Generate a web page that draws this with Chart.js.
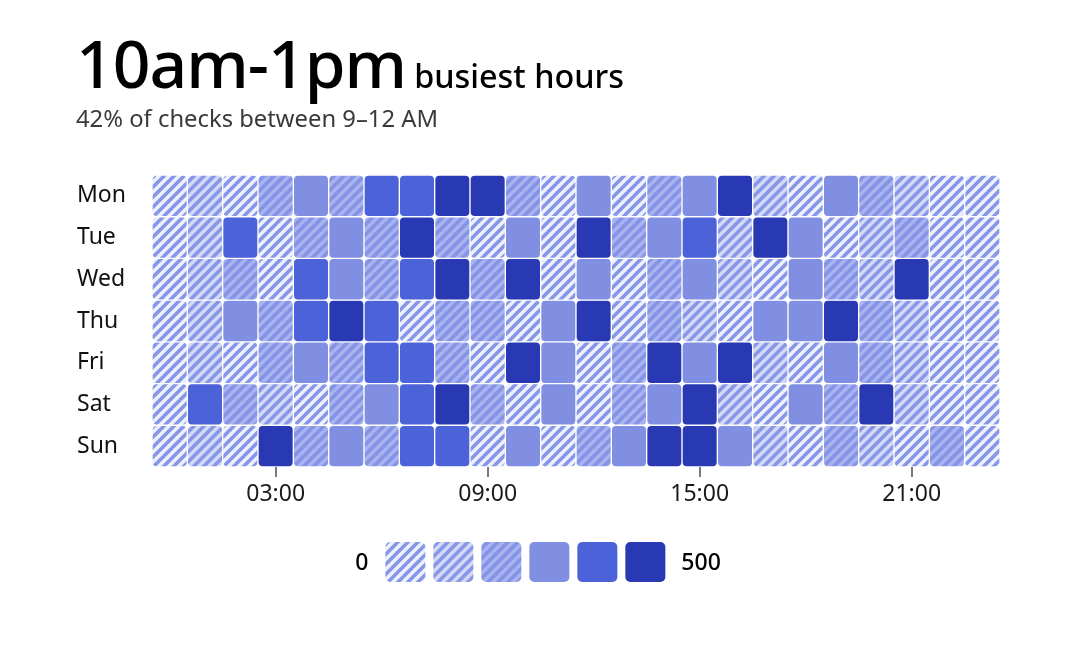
<!DOCTYPE html>
<html>
<head>
<meta charset="utf-8">
<script src="https://cdn.jsdelivr.net/npm/chart.js@4.4.0/dist/chart.umd.min.js"></script>
<style>
    html, body {
        margin: 0;
        padding: 0;
        background: #fff;
        font-family: "Noto Sans", "Open Sans", sans-serif;
    }
    #wrap {
        position: relative;
        width: 1076px;
        height: 646px;
        overflow: hidden;
    }
    #chart {
        position: absolute;
        left: 0;
        top: 0;
    }
    .headline {
        position: absolute;
        left: 76px;
        top: 29px;
        line-height: 66px;
        white-space: nowrap;
        color: #000;
        font-weight: 500;
    }
    .big {
        font-size: 66px;
        letter-spacing: -1px;
    }
    .small {
        font-size: 32.4px;
        margin-left: 8px;
    }
    .sub {
        position: absolute;
        left: 76px;
        top: 106px;
        font-size: 23.8px;
        line-height: 24px;
        color: #3a3a3a;
        white-space: nowrap;
    }
</style>
</head>
<body>
<div id="wrap">
    <canvas id="chart" width="1076" height="646"></canvas>
    <div class="headline"><span class="big">10am-1pm</span><span class="small">busiest hours</span></div>
    <div class="sub">42% of checks between 9–12 AM</div>
</div>
<script>
    // hours of the day, labelled every 6h starting at 03:00
    const hours = [];
    for (let h = 0; h < 24; h++) hours.push(String(h).padStart(2, "0") + ":00");
    const days = ["Mon", "Tue", "Wed", "Thu", "Fri", "Sat", "Sun"];

    // checks per hour (estimated from the colour bins, scale 0-500)
    const mon = [40, 125, 40, 210, 290, 210, 375, 375, 460, 460, 210, 40, 290, 40, 210, 290, 460, 125, 40, 290, 210, 125, 40, 40];
    const tue = [40, 125, 375, 40, 210, 290, 210, 460, 210, 40, 290, 40, 460, 210, 290, 375, 125, 460, 290, 40, 125, 210, 40, 40];
    const wed = [40, 125, 210, 40, 375, 290, 210, 375, 460, 210, 460, 40, 290, 40, 210, 290, 125, 40, 290, 210, 125, 460, 40, 40];
    const thu = [40, 125, 290, 210, 375, 460, 375, 40, 210, 210, 40, 290, 460, 40, 210, 125, 40, 290, 290, 460, 210, 125, 40, 40];
    const fri = [40, 125, 40, 210, 290, 210, 375, 375, 210, 40, 460, 290, 40, 210, 460, 290, 460, 125, 40, 290, 210, 125, 40, 40];
    const sat = [40, 375, 210, 125, 40, 210, 290, 375, 460, 210, 40, 290, 40, 210, 290, 460, 125, 40, 290, 210, 460, 125, 40, 40];
    const sun = [40, 125, 40, 460, 210, 290, 210, 375, 375, 40, 290, 40, 210, 290, 460, 460, 290, 125, 40, 210, 125, 40, 210, 40];
    const week = [mon, tue, wed, thu, fri, sat, sun];

    const maxValue = 500;
    const steps = 6;

    // striped fills for the three lowest bins
    function stripes(bg, fg) {
        const s = 10;
        const c = document.createElement("canvas");
        c.width = s;
        c.height = s;
        const g = c.getContext("2d");
        g.fillStyle = bg;
        g.fillRect(0, 0, s, s);
        g.strokeStyle = fg;
        g.lineWidth = 3.6;
        g.beginPath();
        g.moveTo(-3, 3); g.lineTo(3, -3);
        g.moveTo(0, s); g.lineTo(s, 0);
        g.moveTo(s - 3, s + 3); g.lineTo(s + 3, s - 3);
        g.stroke();
        return g.createPattern(c, "repeat");
    }

    const fills = [
        stripes("#eef0fc", "#8797e7"),
        stripes("#d3d9f6", "#8797e7"),
        stripes("#a9b3ef", "#8493e6"),
        "#818fe3",
        "#4c62d8",
        "#2939b3",
    ];

    function fillFor(v) {
        const i = Math.min(steps - 1, Math.floor(v / (maxValue / steps)));
        return fills[i];
    }

    const datasets = days.map((day, d) => ({
        label: day,
        data: hours.map(() => [d, d + 1]),
        backgroundColor: (ctx) => fillFor(week[d][ctx.dataIndex]),
        borderColor: "#fff",
        borderWidth: 1,
        borderSkipped: false,
        borderRadius: 5,
        grouped: false,
        barPercentage: 1,
        categoryPercentage: 1,
    }));

    // colour key under the chart
    const scaleKey = {
        id: "scaleKey",
        afterDraw(chart) {
            const ctx = chart.ctx;
            ctx.save();
            ctx.font = "500 23px 'Noto Sans'";
            ctx.fillStyle = "#000";
            ctx.textBaseline = "middle";
            const w0 = ctx.measureText("0").width;
            const w1 = ctx.measureText(String(maxValue)).width;
            const box = 40, gap = 8;
            const total = w0 + 17 + steps * box + (steps - 1) * gap + 16 + w1;
            let x = chart.width / 2 - total / 2;
            const y = 542;
            ctx.textAlign = "left";
            ctx.fillText("0", x, y + box / 2 + 1);
            x += w0 + 17;
            for (let i = 0; i < steps; i++) {
                ctx.fillStyle = fills[i];
                ctx.beginPath();
                ctx.roundRect(x, y, box, box, 5);
                ctx.fill();
                x += box + gap;
            }
            x += 16 - gap;
            ctx.fillStyle = "#000";
            ctx.fillText(String(maxValue), x, y + box / 2 + 1);
            ctx.restore();
        }
    };

    new Chart(document.getElementById("chart"), {
        type: "bar",
        data: { labels: hours, datasets: datasets },
        options: {
            responsive: false,
            animation: false,
            layout: { padding: { left: 77, right: 76, top: 175, bottom: 129 } },
            scales: {
                x: {
                    type: "category",
                    offset: true,
                    border: { display: false },
                    grid: {
                        offset: false,
                        drawOnChartArea: false,
                        drawTicks: true,
                        tickLength: 10,
                        lineWidth: 2,
                        color: (ctx) => (ctx.index % 6 === 3 ? "#7a7a7a" : "rgba(0,0,0,0)"),
                    },
                    ticks: {
                        autoSkip: false,
                        maxRotation: 0,
                        padding: 4,
                        color: "#1a1a1a",
                        font: { family: "'Noto Sans'", size: 23 },
                        callback: (v, i) => (i % 6 === 3 ? hours[i] : ""),
                    },
                    afterFit: (scale) => { scale.height = 50; },
                },
                y: {
                    type: "linear",
                    min: 0,
                    max: days.length,
                    reverse: true,
                    border: { display: false },
                    grid: { display: false },
                    afterBuildTicks: (scale) => {
                        scale.ticks = days.map((d, i) => ({ value: i + 0.5 }));
                    },
                    ticks: {
                        crossAlign: "far",
                        color: "#111",
                        font: { family: "'Noto Sans'", size: 23 },
                        callback: (v, i) => days[i],
                    },
                    afterFit: (scale) => { scale.width = 75; },
                },
            },
            plugins: {
                legend: { display: false },
                tooltip: { enabled: false },
            },
        },
        plugins: [scaleKey],
    });
</script>
</body>
</html>
